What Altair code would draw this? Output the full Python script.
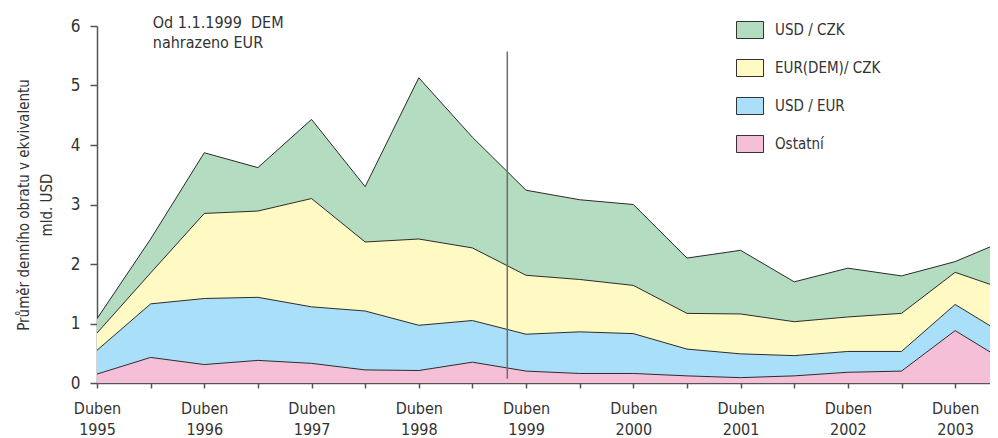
import json
import altair as alt
import pandas as pd

FONT = "DejaVu Sans Condensed, Roboto Condensed, Roboto, sans-serif"

# half-year periods: April 1995 (index 0) ... October 2003 (index 17)
periods = list(range(18))
years = [1995, 1996, 1997, 1998, 1999, 2000, 2001, 2002, 2003]

series_names = ["USD / CZK", "EUR(DEM)/ CZK", "USD / EUR", "Ostatní"]
series_colors = ["#b3dcc1", "#fff9c3", "#aadff9", "#f5bfd7"]

# values (mld. USD)
ostatni = [0.15, 0.43, 0.31, 0.38, 0.33, 0.22, 0.21, 0.35, 0.20, 0.16, 0.16, 0.12, 0.09, 0.12, 0.18, 0.20, 0.88, 0.33]
usd_eur = [0.40, 0.90, 1.11, 1.06, 0.95, 0.99, 0.76, 0.70, 0.62, 0.70, 0.67, 0.45, 0.40, 0.34, 0.35, 0.33, 0.44, 0.44]
eur_czk = [0.29, 0.52, 1.43, 1.45, 1.82, 1.16, 1.45, 1.22, 0.99, 0.88, 0.81, 0.60, 0.67, 0.57, 0.58, 0.64, 0.54, 0.78]
usd_czk = [0.24, 0.57, 1.02, 0.73, 1.33, 0.93, 2.71, 1.86, 1.43, 1.34, 1.36, 0.93, 1.07, 0.67, 0.82, 0.63, 0.18, 0.87]

euro_switch = 7.65          # 1.1.1999 marker, in period units
euro_line_range = [0.07, 5.57]
note_lines = ["Od 1.1.1999\u00a0 DEM", "nahrazeno EUR"]
note_pos = [1.04, 6.05]
x_visible_end = 16.65       # chart is cut at the right edge, inside the last half-year

# stacked table (bottom to top)
stack = [("Ostatní", ostatni), ("USD / EUR", usd_eur), ("EUR(DEM)/ CZK", eur_czk), ("USD / CZK", usd_czk)]
rows = []
base = [0.0] * len(periods)
for name, vals in stack:
    for i, v in zip(periods, vals):
        rows.append({"i": i, "s": name, "lo": base[i], "hi": base[i] + v})
    base = [b + v for b, v in zip(base, vals)]
df = pd.DataFrame(rows)

labels = []
for i in range(17):
    labels.append(["Duben", str(years[i // 2])] if i % 2 == 0 else "")
label_expr = json.dumps(labels, ensure_ascii=False) + "[datum.value]"

xscale = alt.Scale(domain=[0, x_visible_end], nice=False, zero=False)
yscale = alt.Scale(domain=[0, 6], nice=False)

xaxis = alt.Axis(values=list(range(17)), labelExpr=label_expr, title=None, tickSize=5,
                 labelPadding=12, labelFontSize=16, labelLineHeight=21, labelFlush=False,
                 labelOverlap=False, domainWidth=1.5, tickWidth=1.5)
yaxis = alt.Axis(values=list(range(7)), format="d",
                 title=["Průměr denního obratu v ekvivalentu", "mld. USD"],
                 tickSize=7, labelPadding=10, labelFontSize=17, titleFontSize=15,
                 titleFontWeight="normal", titleLineHeight=23, titlePadding=16,
                 domainWidth=1.5, tickWidth=1.5)

area = alt.Chart(df).mark_area(clip=True, opacity=1).encode(
    x=alt.X("i:Q", scale=xscale, axis=xaxis),
    y=alt.Y("hi:Q", scale=yscale, axis=yaxis),
    y2="lo:Q",
    color=alt.Color("s:N", scale=alt.Scale(domain=series_names, range=series_colors),
                    legend=alt.Legend(title=None, orient="none", legendX=639, legendY=-10,
                                      symbolType="M-1,-0.63H1V0.63H-1Z", symbolSize=729,
                                      symbolStrokeColor="#333", symbolStrokeWidth=1,
                                      symbolOpacity=1, rowPadding=13, labelOffset=11,
                                      labelFontSize=15, labelColor="#333", padding=0)),
)

lines = alt.Chart(df).mark_line(clip=True, color="#2b2b2b", strokeWidth=1).encode(
    x=alt.X("i:Q", scale=xscale),
    y=alt.Y("hi:Q", scale=yscale),
    detail="s:N",
)

rule_df = pd.DataFrame({"x": [euro_switch], "y": [euro_line_range[0]], "y2": [euro_line_range[1]]})
rule = alt.Chart(rule_df).mark_rule(color="#6e6e6e", strokeWidth=1.5).encode(
    x=alt.X("x:Q", scale=xscale), y=alt.Y("y:Q", scale=yscale), y2="y2:Q")

note_df = pd.DataFrame({"x": [note_pos[0]], "y": [note_pos[1]], "t": [note_lines]})
note = alt.Chart(note_df).mark_text(align="left", baseline="middle", fontSize=16, lineHeight=20,
                                    color="#333", font=FONT).encode(
    x=alt.X("x:Q", scale=xscale), y=alt.Y("y:Q", scale=yscale), text="t")

chart = alt.layer(area, lines, rule, note).properties(
    width=893, height=357, autosize="none",
    padding={"left": 89, "top": 18, "right": 0, "bottom": 55},
).configure_view(stroke=None).configure_axis(
    labelFont=FONT, titleFont=FONT, labelColor="#333", titleColor="#333",
    domainColor="#555", tickColor="#555", grid=False,
).configure_legend(labelFont=FONT)

chart.save("out.html", embed_options={"renderer": "svg", "actions": False})
